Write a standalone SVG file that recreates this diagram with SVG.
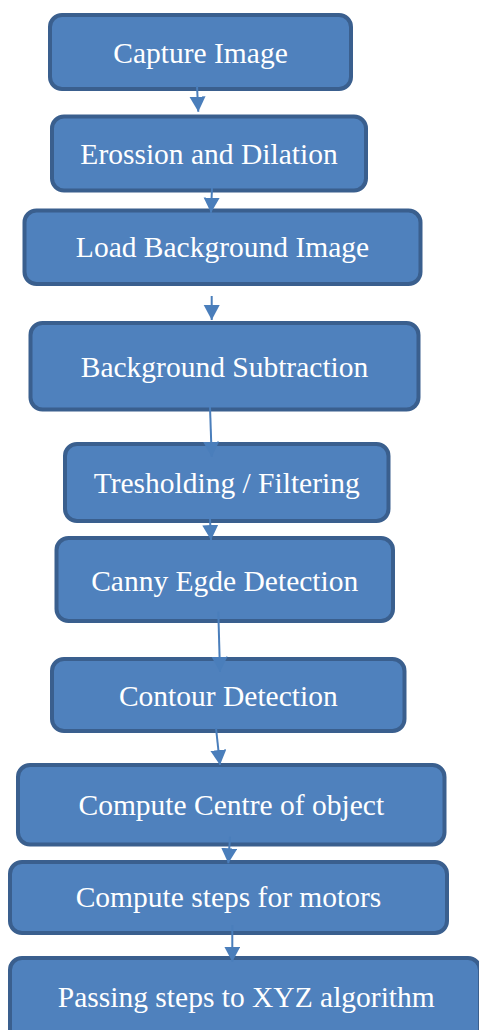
<svg xmlns="http://www.w3.org/2000/svg" width="479" height="1030" viewBox="0 0 479 1030">
<style>
.box{fill:#4f81bd;stroke:#3a5f8e;stroke-width:4}
.lbl{fill:#ffffff;font-family:"Liberation Serif","Times New Roman",serif;font-size:29.5px;text-anchor:middle}
.conn{stroke:#4a7ebb;stroke-width:2;fill:none;marker-end:url(#arr)}
</style>
<defs>
<marker id="arr" markerUnits="userSpaceOnUse" markerWidth="17" markerHeight="17" refX="15" refY="8" orient="auto">
<path d="M0,0 L15,8 L0,16 Z" fill="#4a7ebb"/>
</marker>
</defs>
<rect width="479" height="1030" fill="#ffffff"/>
<g id="n1"><rect class="box" x="50" y="15" width="301" height="74" rx="12"/><text class="lbl" x="200.5" y="62.5">Capture Image</text></g>
<g id="n2"><rect class="box" x="52" y="116.5" width="314" height="74" rx="12"/><text class="lbl" x="209" y="164">Erossion and Dilation</text></g>
<g id="n3"><rect class="box" x="24.5" y="210.5" width="396" height="73.5" rx="12"/><text class="lbl" x="222.5" y="257.3">Load Background Image</text></g>
<g id="n4"><rect class="box" x="30.5" y="323" width="388" height="86.5" rx="12"/><text class="lbl" x="224.5" y="377.3">Background Subtraction</text></g>
<g id="n5"><rect class="box" x="65" y="444" width="323.5" height="77" rx="12"/><text class="lbl" x="226.7" y="493.3">Tresholding / Filtering</text></g>
<g id="n6"><rect class="box" x="56.5" y="538" width="336.5" height="83" rx="12"/><text class="lbl" x="224.7" y="591">Canny Egde Detection</text></g>
<g id="n7"><rect class="box" x="52" y="659" width="352.5" height="72" rx="12"/><text class="lbl" x="228.3" y="706">Contour Detection</text></g>
<g id="n8"><rect class="box" x="18" y="765" width="426.5" height="79.5" rx="12"/><text class="lbl" x="231.3" y="815">Compute Centre of object</text></g>
<g id="n9"><rect class="box" x="10" y="862" width="437" height="71" rx="12"/><text class="lbl" x="228.5" y="907.3">Compute steps for motors</text></g>
<g id="n10"><rect class="box" x="10" y="958" width="470" height="95" rx="12"/><text class="lbl" x="246.3" y="1006.7">Passing steps to XYZ algorithm</text></g>
<g id="connectors">
<line class="conn" x1="197" y1="86" x2="198.3" y2="111.7"/>
<line class="conn" x1="212" y1="188" x2="211" y2="212.7"/>
<line class="conn" x1="211.7" y1="296" x2="211.7" y2="320"/>
<line class="conn" x1="210" y1="407" x2="211.7" y2="456.7"/>
<line class="conn" x1="210" y1="519" x2="211" y2="540"/>
<line class="conn" x1="218.3" y1="611.7" x2="220" y2="671.7"/>
<line class="conn" x1="216" y1="728" x2="220" y2="765"/>
<line class="conn" x1="230" y1="836.7" x2="228.3" y2="863.3"/>
<line class="conn" x1="232.3" y1="925" x2="232.3" y2="961.7"/>
</g>
</svg>
